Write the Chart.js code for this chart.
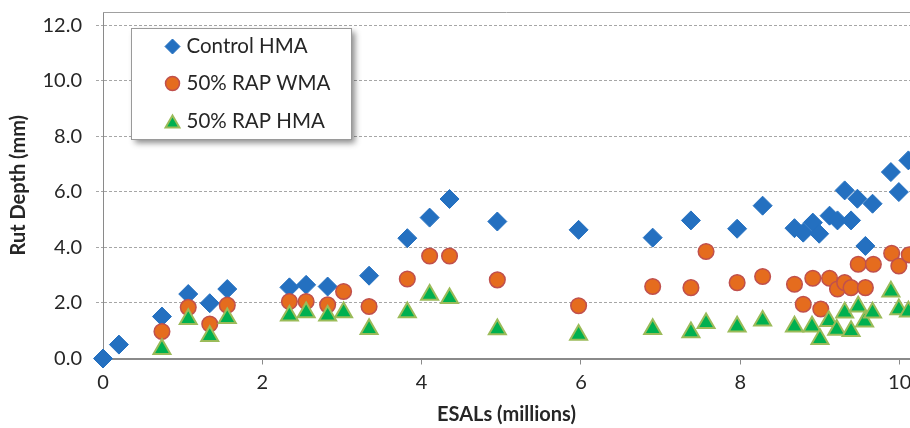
<!DOCTYPE html>
<html>
<head>
<meta charset="utf-8">
<script src="https://cdn.jsdelivr.net/npm/chart.js@4.4.1/dist/chart.umd.min.js"></script>
<style>
  html, body { margin: 0; padding: 0; background: #fff; }
  #chart { display: block; }
</style>
</head>
<body>
<canvas id="chart" width="910" height="428"></canvas>
<script>
// Series names
const seriesNames = ["Control HMA", "50% RAP WMA", "50% RAP HMA"];

// Control HMA (ESALs in millions, rut depth in mm)
const ctrlEsals = [0, 0.2, 0.74, 1.07, 1.34, 1.56, 2.34, 2.55, 2.82, 3.34, 3.82, 4.10, 4.35,
  4.95, 5.97, 6.90, 7.38, 7.96, 8.28, 8.68, 8.79, 8.91, 8.99, 9.12, 9.22, 9.31, 9.39,
  9.47, 9.57, 9.66, 9.89, 9.99, 10.11];
const ctrlRut = [0, 0.5, 1.51, 2.32, 1.99, 2.5, 2.56, 2.65, 2.59, 2.98, 4.33, 5.07, 5.74,
  4.93, 4.63, 4.35, 4.97, 4.67, 5.50, 4.69, 4.53, 4.89, 4.49, 5.14, 4.97, 6.05, 4.97,
  5.75, 4.05, 5.57, 6.71, 5.99, 7.13];

// 50% RAP WMA
const wmaEsals = [0.74, 1.07, 1.34, 1.56, 2.34, 2.55, 2.82, 3.02, 3.34, 3.82, 4.10, 4.35,
  4.95, 5.97, 6.90, 7.38, 7.57, 7.96, 8.28, 8.68, 8.79, 8.91, 9.01, 9.12, 9.22, 9.31,
  9.39, 9.48, 9.57, 9.67, 9.90, 9.99, 10.12];
const wmaRut = [0.97, 1.84, 1.24, 1.92, 2.05, 2.05, 1.93, 2.41, 1.87, 2.86, 3.69, 3.69,
  2.83, 1.90, 2.59, 2.55, 3.85, 2.73, 2.95, 2.67, 1.95, 2.89, 1.78, 2.89, 2.50, 2.73,
  2.55, 3.39, 2.55, 3.39, 3.79, 3.33, 3.73];

// 50% RAP HMA
const hmaEsals = [0.74, 1.07, 1.34, 1.56, 2.34, 2.55, 2.82, 3.02, 3.34, 3.82, 4.10, 4.35,
  4.95, 5.97, 6.90, 7.38, 7.57, 7.96, 8.28, 8.68, 8.90, 9.00, 9.11, 9.21, 9.31, 9.39,
  9.48, 9.56, 9.66, 9.89, 9.99, 10.11];
const hmaRut = [0.34, 1.42, 0.81, 1.45, 1.54, 1.66, 1.54, 1.66, 1.06, 1.66, 2.29, 2.17,
  1.05, 0.85, 1.06, 0.94, 1.27, 1.15, 1.36, 1.15, 1.15, 0.70, 1.35, 1.03, 1.65, 0.99,
  1.87, 1.33, 1.65, 2.41, 1.77, 1.69];

const toPoints = (xs, ys) => xs.map((x, i) => ({ x: x, y: ys[i] }));

const FONT = "Lato, 'Open Sans', sans-serif";
const TEXT = "#262626";

// Legend box drawn inside the plot, with a drop shadow
const boxLegend = {
  id: "boxLegend",
  afterDraw(chart) {
    const ctx = chart.ctx;
    const area = chart.chartArea;
    const x0 = area.left + 28.5, y0 = area.top + 16.5, w = 220, h = 111;

    ctx.save();
    ctx.shadowColor = "rgba(0,0,0,0.45)";
    ctx.shadowBlur = 6;
    ctx.shadowOffsetX = 3;
    ctx.shadowOffsetY = 3;
    ctx.fillStyle = "#fff";
    ctx.fillRect(x0, y0, w, h);
    ctx.restore();

    ctx.save();
    ctx.strokeStyle = "#9a9a9a";
    ctx.lineWidth = 1;
    ctx.strokeRect(x0, y0, w, h);

    const rows = [18, 55, 93];
    const legendRadius = [7.5, 7, 8];
    chart.data.datasets.forEach((ds, i) => {
      const cy = y0 + rows[i];
      ctx.fillStyle = ds.backgroundColor;
      ctx.strokeStyle = ds.borderColor;
      ctx.lineWidth = ds.borderWidth;
      Chart.helpers.drawPoint(ctx, {
        pointStyle: ds.pointStyle,
        radius: legendRadius[i],
        borderWidth: ds.borderWidth,
        rotation: 0
      }, x0 + 41, cy + (ds.pointStyle === "triangle" ? 2 : 0));
      ctx.fillStyle = TEXT;
      ctx.font = "20.5px " + FONT;
      ctx.textBaseline = "middle";
      ctx.fillText(ds.label, x0 + 55, cy);
    });
    ctx.restore();
  }
};

// Top edge of the plot area
const plotFrame = {
  id: "plotFrame",
  afterDatasetsDraw(chart) {
    const ctx = chart.ctx;
    const area = chart.chartArea;
    ctx.save();
    ctx.strokeStyle = "#a0a0a0";
    ctx.lineWidth = 1;
    ctx.beginPath();
    ctx.moveTo(area.left, area.top + 0.5);
    ctx.lineTo(area.right, area.top + 0.5);
    ctx.stroke();
    ctx.restore();
  }
};

const ctx = document.getElementById("chart").getContext("2d");
new Chart(ctx, {
  type: "scatter",
  data: {
    datasets: [
      {
        label: seriesNames[0],
        data: toPoints(ctrlEsals, ctrlRut),
        pointStyle: "rectRot",
        pointRadius: 9.5,
        backgroundColor: "#2470C0",
        borderColor: "#2470C0",
        borderWidth: 1,
        clip: false,
        order: 2
      },
      {
        label: seriesNames[1],
        data: toPoints(wmaEsals, wmaRut),
        pointStyle: "circle",
        pointRadius: 7.8,
        backgroundColor: "#E56C1E",
        borderColor: "#C0504D",
        borderWidth: 1.5,
        clip: false,
        order: 1
      },
      {
        label: seriesNames[2],
        data: toPoints(hmaEsals, hmaRut),
        pointStyle: "triangle",
        pointRadius: 9.8,
        backgroundColor: "#00B050",
        borderColor: "#9BBB59",
        borderWidth: 2,
        clip: false,
        order: 0
      }
    ]
  },
  options: {
    responsive: false,
    animation: false,
    devicePixelRatio: 1,
    events: [],
    layout: { autoPadding: false, padding: { top: 12, right: 0, left: 0, bottom: 0 } },
    plugins: {
      legend: { display: false },
      tooltip: { enabled: false }
    },
    scales: {
      x: {
        type: "linear",
        min: 0,
        max: 10.13,
        afterFit: (s) => {
          s.height = 69.5;
          s.paddingLeft = 0;
          s.paddingRight = 0;
        },
        ticks: {
          stepSize: 2,
          includeBounds: false,
          color: TEXT,
          font: { family: FONT, size: 20 },
          padding: 6,
          maxRotation: 0
        },
        grid: {
          drawOnChartArea: false,
          drawTicks: true,
          tickLength: 6,
          tickColor: "#8a8a8a"
        },
        border: { color: "#8a8a8a", width: 2 },
        title: {
          display: true,
          text: "ESALs (millions)",
          color: TEXT,
          font: { family: FONT, size: 20, weight: "bold" },
          padding: { top: 0, bottom: 1 }
        }
      },
      y: {
        min: 0,
        max: 12.47,
        afterFit: (s) => {
          s.width = 103;
          s.paddingTop = 0;
          s.paddingBottom = 0;
        },
        afterBuildTicks: (s) => { s.ticks = s.ticks.filter((t) => t.value % 2 === 0); },
        ticks: {
          stepSize: 2,
          includeBounds: false,
          color: TEXT,
          font: { family: FONT, size: 20 },
          padding: 14,
          callback: (v) => v.toFixed(1)
        },
        grid: {
          color: "#a6a6a6",
          tickLength: 7,
          tickColor: "#a6a6a6",
          tickBorderDash: [3, 2]
        },
        border: { color: "#8a8a8a", width: 1, dash: [3, 2] },
        title: {
          display: true,
          text: "Rut Depth (mm)",
          color: TEXT,
          font: { family: FONT, size: 20, weight: "bold" },
          padding: { top: 7, bottom: 0 }
        }
      }
    }
  },
  plugins: [plotFrame, boxLegend]
});
</script>
</body>
</html>
